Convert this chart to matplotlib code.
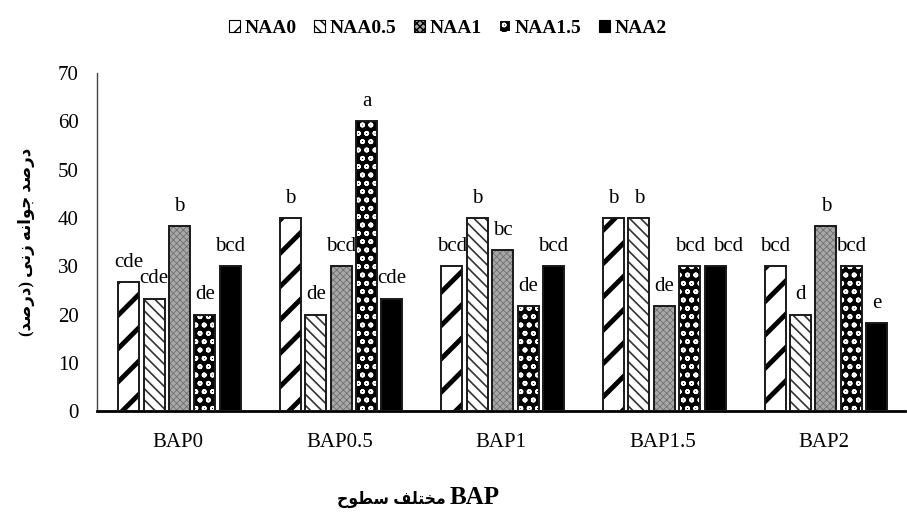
import matplotlib.pyplot as plt
import numpy as np
from matplotlib.patches import Patch

groups = ["BAP0", "BAP0.5", "BAP1", "BAP1.5", "BAP2"]
series = ["NAA0", "NAA0.5", "NAA1", "NAA1.5", "NAA2"]

naa0 = [26.7, 40.0, 30.0, 40.0, 30.0]
naa05 = [23.3, 20.0, 40.0, 40.0, 20.0]
naa1 = [38.3, 30.0, 33.3, 21.7, 38.3]
naa15 = [20.0, 60.0, 21.7, 30.0, 30.0]
naa2 = [30.0, 23.3, 30.0, 30.0, 18.3]

letters0 = ["cde", "b", "bcd", "b", "bcd"]
letters05 = ["cde", "de", "b", "b", "d"]
letters1 = ["b", "bcd", "bc", "de", "b"]
letters15 = ["de", "a", "de", "bcd", "bcd"]
letters2 = ["bcd", "cde", "bcd", "bcd", "e"]

values = [naa0, naa05, naa1, naa15, naa2]
letters = [letters0, letters05, letters1, letters15, letters2]

# Persian labels, written in visual (pre-shaped) order since matplotlib does no bidi/shaping
ylabel = ("(\uFEAA\uFEBB\uFEAD\uFEA9) \uFEF0\uFEE7\uFEAF "
          "\uFEEA\uFEE7\uFE8D\uFEEE\uFE9F \uFEAA\uFEBB\uFEAD\uFEA9")
xlabel_fa = "\uFEA1\uFEEE\uFEC4\uFEB3 \uFED2\uFEE0\uFE98\uFEA8\uFEE3"
xlabel_en = "BAP"

# (face, hatch, hatch colour, hatch linewidth)
styles = [
    ("white", "/", "black", 3.5),
    ("white", "\\\\\\", "#333333", 1.2),
    ("#a8a8a8", "xxxxx", "#707070", 0.6),
    ("black", "oo", "white", 1.2),
    ("black", None, "black", 1.0),
]

# label nudges (points) where Excel pushed colliding labels apart
nudge = {(4, 3): 9}

FONT = ["Liberation Serif", "DejaVu Sans"]
plt.rcParams["font.family"] = FONT

fig = plt.figure(figsize=(9.07, 5.14), dpi=100)
ax = fig.add_axes([0.107, 0.2, 0.891, 0.658])

x = np.arange(len(groups))
slot = 0.157
width = 0.13

for k, (vals, labs, (fc, hatch, hc, hlw)) in enumerate(zip(values, letters, styles)):
    pos = x + (k - 2) * slot + 0.01
    with plt.rc_context({"hatch.linewidth": hlw}):
        ax.bar(pos, vals, width, color=fc, edgecolor=hc, hatch=hatch, linewidth=0, zorder=2)
    ax.bar(pos, vals, width, fill=False, edgecolor="#1a1a1a", linewidth=1.4, zorder=3)
    for g, (px, v, lab) in enumerate(zip(pos, vals, labs)):
        ax.annotate(lab, (px, v), xytext=(nudge.get((k, g), 0), 11), textcoords="offset points",
                    ha="center", va="baseline", fontsize=15)

ax.set_xlim(-0.5, 4.5)
ax.set_ylim(0, 70)
ax.set_yticks(range(0, 71, 10))
ax.set_xticks(x)
ax.set_xticklabels(groups)
ax.tick_params(axis="both", length=0, labelsize=15)
ax.tick_params(axis="x", pad=16)
ax.tick_params(axis="y", pad=13)
for s in ["top", "right"]:
    ax.spines[s].set_visible(False)
ax.spines["left"].set_color("#444444")
ax.spines["left"].set_linewidth(1.0)
ax.spines["bottom"].set_linewidth(2.0)

ax.set_ylabel(ylabel, fontsize=12, fontweight="bold", labelpad=17)

# x label: Persian part and bold BAP set separately (different sizes in the source)
fig.text(446 / 907, 10 / 514, xlabel_fa, ha="right", va="baseline", fontsize=12.5,
         fontweight="bold", fontstretch="condensed")
fig.text(450 / 907, 10 / 514, xlabel_en, ha="left", va="baseline", fontsize=18,
         fontweight="bold")

handles = []
for fc, hatch, hc, hlw in styles:
    handles.append(Patch(facecolor=fc, edgecolor="white" if (fc == "black" and hatch) else "black",
                         hatch=hatch, linewidth=0.8))
fig.legend(handles, series, loc="center", bbox_to_anchor=(0.494, 0.945), ncol=5,
           frameon=False, handlelength=0.55, handleheight=0.55, handletextpad=0.25,
           columnspacing=0.9, prop={"family": FONT, "weight": "bold", "size": 14})

fig.savefig("out.png", dpi=100)
